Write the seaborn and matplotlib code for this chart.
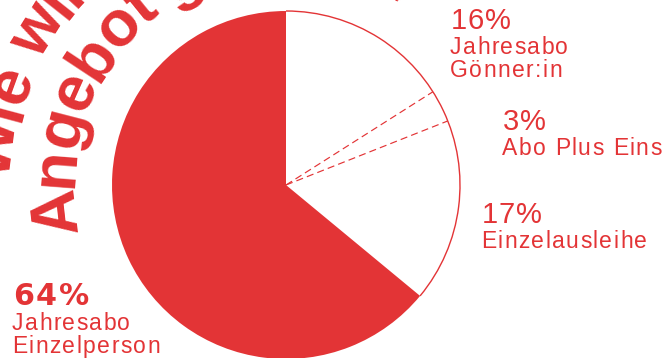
import numpy as np
import matplotlib
matplotlib.use("Agg")
import matplotlib.pyplot as plt
import seaborn as sns
from matplotlib.patches import Arc
from matplotlib.textpath import TextToPath
from matplotlib.font_manager import FontProperties

# ---- data ----
categories = ["Jahresabo\nGönner:in", "Abo Plus Eins", "Einzelausleihe", "Jahresabo\nEinzelperson"]
shares = [16, 3, 17, 64]
pct_labels = ["16%", "3%", "17%", "64%"]
title_outer = "Wie wird unser"
title_inner = "Angebot genutzt?"

sns.set_theme(style="white")
plt.rcParams['font.family'] = ['Liberation Sans', 'DejaVu Sans']
RED = "#e33436"

fig = plt.figure(figsize=(6.67, 3.58), dpi=100)
ax = fig.add_axes([0, 0, 1, 1])

cx, cy, R = 286, 173, 174
colors = ["white", "white", "white", RED]
wedges, _ = ax.pie(shares, colors=colors, startangle=90, counterclock=False,
                   center=(cx, cy), radius=R, wedgeprops=dict(linewidth=0))

total = sum(shares)
cum = np.cumsum(shares) / total
white_frac = cum[2]
ax.add_patch(Arc((cx, cy), 2 * R, 2 * R, theta1=90 - 360 * white_frac, theta2=90,
                 color=RED, lw=1.0, zorder=3))
for f in cum[:2]:
    a = np.deg2rad(90 - 360 * f)
    ax.plot([cx, cx + R * np.cos(a)], [cy, cy + R * np.sin(a)], color=RED, lw=0.85,
            ls=(0, (6, 3.5)), zorder=3)

ax.set_xlim(0, 667)
ax.set_ylim(0, 358)
ax.set_aspect('equal')
ax.axis('off')

ttp = TextToPath()


def widths(text, fp):
    out = [0.0]
    for i in range(1, len(text) + 1):
        out.append(ttp.get_text_width_height_descent(text[:i], fp, ismath=False)[0])
    return out


# ---- curved title ----
def arc_text(text, radius, start_deg, size_px, tracking):
    fp = FontProperties(family='Liberation Sans', weight='bold', size=size_px)
    w = widths(text, fp)
    for i, ch in enumerate(text):
        s = (w[i] + w[i + 1]) / 2 + i * tracking
        th = np.deg2rad(start_deg) - s / radius
        x, y = cx + radius * np.cos(th), cy + radius * np.sin(th)
        ax.text(x, y, ch, rotation=np.rad2deg(th) - 90, rotation_mode='anchor',
                ha='center', va='baseline', fontsize=size_px * 0.72,
                fontweight='bold', color=RED, family='Liberation Sans')


arc_text(title_outer, 275, 179, 64, -2)
arc_text(title_inner, 213, 192.7, 64, -2)


# ---- straight text with letter spacing ----
def tracked_text(x, y, text, size_pt, tracking, family='Liberation Sans', weight='normal'):
    fp = FontProperties(family=family, weight=weight, size=size_pt / 0.72)
    w = widths(text, fp)
    for i, ch in enumerate(text):
        ax.text(x + w[i] + i * tracking, y, ch, fontsize=size_pt, color=RED,
                ha='left', va='baseline', family=family, fontweight=weight)


lab_pos = [(451, 329), (503, 228), (482, 135), (13, 53)]
for k, (lbl, pct) in enumerate(zip(categories, pct_labels)):
    x, y = lab_pos[k]
    if k == 3:
        tracked_text(x, y, pct, 21.7, 2, family='DejaVu Sans', weight='bold')
    else:
        tracked_text(x, y, pct, 21, 0.7)
    for j, line in enumerate(lbl.split("\n")):
        tracked_text(x - 1, y - 25 - 23 * j, line, 16.5, 1.4)

fig.savefig("out.png", dpi=100)
